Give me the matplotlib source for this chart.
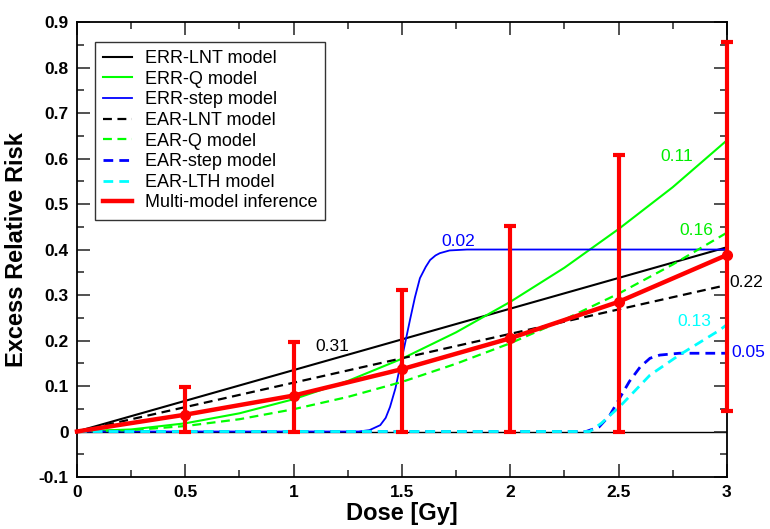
import matplotlib
matplotlib.use("Agg")
import matplotlib.pyplot as plt
from matplotlib.ticker import MultipleLocator

plt.rcParams['font.family'] = ['Liberation Sans', 'DejaVu Sans']

# ---- data ----
lnt_dose = [0.0, 3.0]
err_lnt = [0.0, 0.405]
ear_lnt = [0.0, 0.322]

q_dose = [0.0, 0.25, 0.5, 0.75, 1.0, 1.25, 1.5, 1.75, 2.0, 2.25, 2.5, 2.75, 3.0]
err_q = [0.0, 0.0045, 0.018, 0.040, 0.071, 0.111, 0.160, 0.218, 0.285, 0.360, 0.445, 0.537, 0.640]
ear_q = [0.0, 0.003, 0.012, 0.027, 0.049, 0.076, 0.109, 0.149, 0.194, 0.246, 0.303, 0.367, 0.437]

err_step_dose = [0.0, 1.30, 1.35, 1.40, 1.425, 1.445, 1.47, 1.49, 1.515, 1.537, 1.56, 1.583,
                 1.61, 1.63, 1.655, 1.675, 1.72, 1.80, 3.0]
err_step = [0.0, 0.0, 0.003, 0.014, 0.030, 0.054, 0.095, 0.140, 0.195, 0.245, 0.295, 0.337,
            0.362, 0.377, 0.387, 0.392, 0.398, 0.400, 0.400]

ear_step_dose = [0.0, 2.35, 2.41, 2.46, 2.506, 2.55, 2.60, 2.645, 2.69, 2.78, 3.0]
ear_step = [0.0, 0.0, 0.010, 0.036, 0.074, 0.110, 0.142, 0.161, 0.168, 0.172, 0.172]

ear_lth_dose = [0.0, 2.367, 2.42, 2.506, 2.645, 2.78, 2.967, 3.0]
ear_lth = [0.0, 0.0, 0.018, 0.055, 0.124, 0.168, 0.223, 0.235]

mmi_dose = [0.0, 0.5, 1.0, 1.5, 2.0, 2.5, 3.0]
mmi = [0.0, 0.037, 0.079, 0.137, 0.205, 0.285, 0.388]
mmi_lo = [0.0, 0.0, 0.0, 0.0, 0.0, 0.0, 0.045]
mmi_hi = [0.0, 0.098, 0.197, 0.311, 0.452, 0.608, 0.856]

ann_text = ["0.31", "0.02", "0.11", "0.16", "0.22", "0.13", "0.05"]
ann_x = [1.18, 1.76, 2.77, 2.86, 3.09, 2.85, 3.10]
ann_y = [0.187, 0.418, 0.604, 0.442, 0.327, 0.242, 0.174]
ann_color = ["black", "#0000ff", "#00ee00", "#00ee00", "black", "#00ffff", "#0000ff"]

# ---- figure ----
fig = plt.figure(figsize=(7.7, 5.29), dpi=100)
ax = fig.add_axes([0.1, 0.0983, 0.844, 0.86])

ax.axhline(0, color="black", lw=1.0, zorder=1)

dash = (0, (4, 2.5))
ax.plot(lnt_dose, err_lnt, color="black", lw=1.5, label="ERR-LNT model")
ax.plot(q_dose, err_q, color="#00ff00", lw=1.5, label="ERR-Q model")
ax.plot(err_step_dose, err_step, color="#0000ff", lw=1.3, label="ERR-step model")
ax.plot(lnt_dose, ear_lnt, color="black", lw=1.6, ls=dash, label="EAR-LNT model")
ax.plot(q_dose, ear_q, color="#00ff00", lw=1.6, ls=dash, label="EAR-Q model")
ax.plot(ear_step_dose, ear_step, color="#0000ff", lw=2.0, ls=(0, (3.5, 2.2)), label="EAR-step model")
ax.plot(ear_lth_dose, ear_lth, color="#00ffff", lw=2.0, ls=(0, (3.5, 2.2)), label="EAR-LTH model")

yerr = [[m - l for m, l in zip(mmi, mmi_lo)], [h - m for m, h in zip(mmi, mmi_hi)]]
ax.plot(mmi_dose, mmi, color="#ff0000", lw=3.2, label="Multi-model inference", zorder=5, clip_on=False)
ax.errorbar(mmi_dose[1:], mmi[1:],
            yerr=[yerr[0][1:], yerr[1][1:]],
            fmt="o", color="#ff0000", ms=7, elinewidth=3, capsize=4.5, capthick=3,
            zorder=6, clip_on=False)

for t, x, y, c in zip(ann_text, ann_x, ann_y, ann_color):
    ax.text(x, y, t, color=c, fontsize=12.5, ha="center", va="center", clip_on=False)

ax.set_xlim(0, 3)
ax.set_ylim(-0.1, 0.9)
ax.xaxis.set_major_locator(MultipleLocator(0.5))
ax.xaxis.set_minor_locator(MultipleLocator(0.25))
ax.yaxis.set_major_locator(MultipleLocator(0.1))
ax.yaxis.set_minor_locator(MultipleLocator(0.05))
ax.set_xticks([0, 0.5, 1, 1.5, 2, 2.5, 3])
ax.set_xticklabels(["0", "0.5", "1", "1.5", "2", "2.5", "3"])
ax.set_yticks([-0.1, 0, 0.1, 0.2, 0.3, 0.4, 0.5, 0.6, 0.7, 0.8, 0.9])
ax.set_yticklabels(["-0.1", "0", "0.1", "0.2", "0.3", "0.4", "0.5", "0.6", "0.7", "0.8", "0.9"])
ax.tick_params(which="both", direction="in", top=True, right=True, width=1.1, color="#222222")
ax.tick_params(which="major", length=9.5, labelsize=12.5, pad=6)
ax.tick_params(which="minor", length=5)
for lab in ax.get_xticklabels() + ax.get_yticklabels():
    lab.set_fontweight("bold")
for s in ax.spines.values():
    s.set_linewidth(1.3)

ax.set_xlabel("Dose [Gy]", fontsize=17, fontweight="bold", labelpad=1)
ax.set_ylabel("Excess Relative Risk", fontsize=17, fontweight="bold", labelpad=8)

leg = ax.legend(loc="upper left", bbox_to_anchor=(0.028, 0.956), borderaxespad=0,
                fontsize=13, frameon=True, fancybox=False, edgecolor="black",
                handlelength=1.6, handletextpad=0.7, labelspacing=0.2,
                borderpad=0.45)
leg.get_frame().set_linewidth(1.0)

fig.savefig("out.png", dpi=100)
